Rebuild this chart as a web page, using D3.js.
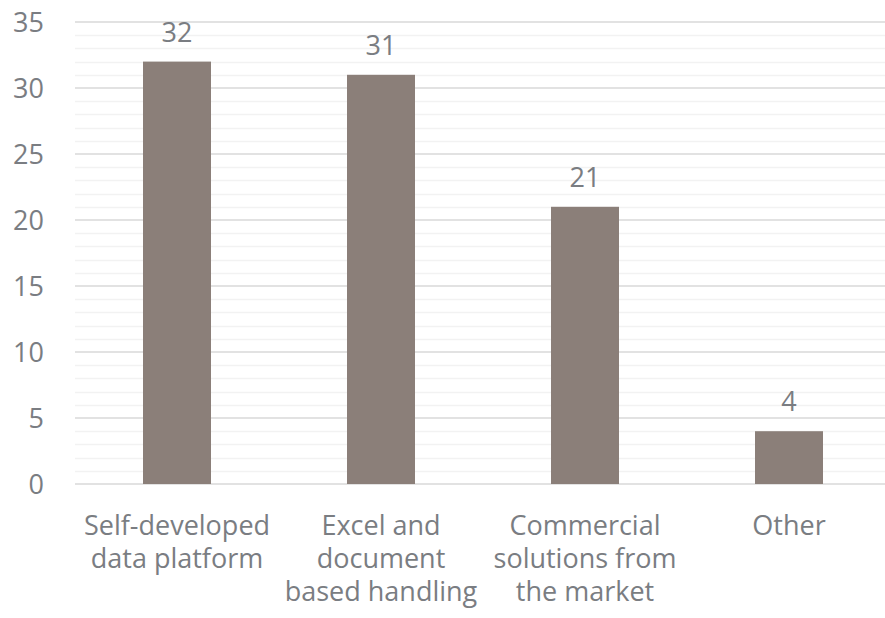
<!DOCTYPE html>
<html>
<head>
<meta charset="utf-8">
<script src="https://cdn.jsdelivr.net/npm/d3@7"></script>
<style>
  body { margin: 0; background: #fff; }
  text { font-family: "Open Sans", sans-serif; fill: #7a7d82; }
</style>
</head>
<body>
<div id="draw"></div>
<script>
var W = 885, H = 618;

// chart data
var categories = [
  ["Self-developed", "data platform"],
  ["Excel and", "document", "based handling"],
  ["Commercial", "solutions from", "the market"],
  ["Other"]
];
var values = [32, 31, 21, 4];
var yTicks = [0, 5, 10, 15, 20, 25, 30, 35];

var plotL = 75, plotR = 891, plotT = 22, plotB = 484;
var fs = 27;

var svg = d3.select("#draw").append("svg")
  .attr("width", W)
  .attr("height", H);

var x = d3.scaleBand()
  .domain(d3.range(values.length))
  .range([plotL, plotR])
  .paddingInner(2 / 3)
  .paddingOuter(1 / 3);

var y = d3.scaleLinear()
  .domain([0, 35])
  .range([plotB, plotT]);

// minor gridlines (every 1)
svg.append("g").selectAll("line")
  .data(d3.range(0, 36).filter(function(d) { return d % 5 !== 0; }))
  .enter().append("line")
  .attr("x1", plotL).attr("x2", W)
  .attr("y1", function(d) { return Math.round(y(d)) + 0.5; })
  .attr("y2", function(d) { return Math.round(y(d)) + 0.5; })
  .attr("stroke", "#f2f2f2")
  .attr("stroke-width", 1.5);

// major gridlines
svg.append("g").selectAll("line")
  .data(yTicks)
  .enter().append("line")
  .attr("x1", plotL).attr("x2", W)
  .attr("y1", function(d) { return Math.round(y(d)); })
  .attr("y2", function(d) { return Math.round(y(d)); })
  .attr("stroke", "#d9d9d9")
  .attr("stroke-width", 1.5);

// y tick labels
svg.append("g").selectAll("text")
  .data(yTicks)
  .enter().append("text")
  .attr("x", 44)
  .attr("y", function(d) { return y(d); })
  .attr("dy", "0.36em")
  .attr("text-anchor", "end")
  .attr("font-size", fs)
  .text(function(d) { return d; });

// bars
svg.append("g").selectAll("rect")
  .data(values)
  .enter().append("rect")
  .attr("x", function(d, i) { return x(i); })
  .attr("y", function(d) { return y(d); })
  .attr("width", x.bandwidth())
  .attr("height", function(d) { return y(0) - y(d); })
  .attr("fill", "#8b7f79");

// value labels
svg.append("g").selectAll("text")
  .data(values)
  .enter().append("text")
  .attr("x", function(d, i) { return x(i) + x.bandwidth() / 2; })
  .attr("y", function(d) { return y(d) - 20; })
  .attr("text-anchor", "middle")
  .attr("font-size", fs)
  .text(function(d) { return d; });

// category labels
var cat = svg.append("g").selectAll("text")
  .data(categories)
  .enter().append("text")
  .attr("x", function(d, i) { return x(i) + x.bandwidth() / 2; })
  .attr("y", 535)
  .attr("text-anchor", "middle")
  .attr("font-size", fs);

cat.selectAll("tspan")
  .data(function(d) { return d; })
  .enter().append("tspan")
  .attr("x", function() { return d3.select(this.parentNode).attr("x"); })
  .attr("dy", function(d, i) { return i === 0 ? 0 : 33; })
  .text(function(d) { return d; });
</script>
</body>
</html>
